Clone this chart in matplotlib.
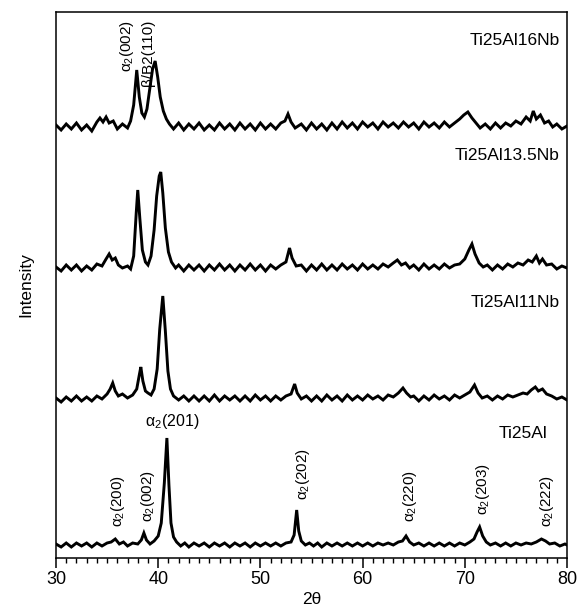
import matplotlib
matplotlib.use("Agg")
import matplotlib.pyplot as plt
from matplotlib.ticker import MultipleLocator

# ---------- DATA (2theta, intensity above baseline) ----------
ti25al16nb = [
    (30.0, 2), (30.5, -3), (31.0, 3), (31.5, -2), (32.0, 4), (32.5, -3), (33.0, 2), (33.5, -4),
    (34.0, 5), (34.3, 9), (34.6, 5), (34.9, 10), (35.2, 4), (35.6, 6), (36.0, -2), (36.5, 3),
    (37.0, -1), (37.3, 6), (37.6, 22), (37.9, 57), (38.15, 30), (38.4, 14), (38.65, 10), (38.9, 18),
    (39.2, 40), (39.45, 58), (39.7, 66), (39.95, 50), (40.2, 30), (40.5, 16), (40.8, 8), (41.1, 3),
    (41.5, -2), (42.0, 4), (42.5, -3), (43.0, 3), (43.5, -2), (44.0, 4), (44.5, -3), (45.0, 2),
    (45.5, -3), (46.0, 4), (46.5, -2), (47.0, 3), (47.5, -3), (48.0, 4), (48.5, -2), (49.0, 3),
    (49.5, -3), (50.0, 4), (50.5, -2), (51.0, 3), (51.5, -2), (52.0, 4), (52.4, 6), (52.7, 13),
    (53.0, 5), (53.4, -1), (54.0, 3), (54.5, -3), (55.0, 4), (55.5, -2), (56.0, 3), (56.5, -3),
    (57.0, 4), (57.5, -2), (58.0, 5), (58.5, -1), (59.0, 4), (59.5, -2), (60.0, 5), (60.5, 0),
    (61.0, 4), (61.5, -2), (62.0, 5), (62.5, 0), (63.0, 4), (63.5, -1), (64.0, 5), (64.5, 0),
    (65.0, 4), (65.5, -2), (66.0, 5), (66.5, 0), (67.0, 4), (67.5, -1), (68.0, 5), (68.5, 0),
    (69.0, 4), (69.5, 8), (69.9, 12), (70.3, 15), (70.7, 9), (71.1, 4), (71.5, -1), (72.0, 3),
    (72.5, -2), (73.0, 4), (73.5, -1), (74.0, 4), (74.5, 1), (75.0, 6), (75.5, 3), (76.0, 10),
    (76.4, 6), (76.7, 16), (77.0, 8), (77.4, 12), (77.8, 4), (78.2, 6), (78.6, 0), (79.0, 3),
    (79.5, -2), (80.0, 1),
]

ti25al135nb = [
    (30.0, 1), (30.5, -3), (31.0, 3), (31.5, -2), (32.0, 3), (32.5, -3), (33.0, 2), (33.5, -2),
    (34.0, 4), (34.5, 2), (34.9, 9), (35.2, 14), (35.5, 8), (35.8, 10), (36.1, 3), (36.5, 0),
    (37.0, 2), (37.3, -1), (37.6, 12), (37.85, 55), (38.0, 78), (38.2, 50), (38.45, 18), (38.75, 6),
    (39.0, 3), (39.3, 12), (39.6, 38), (39.85, 72), (40.1, 92), (40.25, 96), (40.45, 75), (40.7, 40),
    (41.0, 16), (41.3, 6), (41.7, 0), (42.0, 3), (42.5, -3), (43.0, 3), (43.5, -2), (44.0, 3),
    (44.5, -3), (45.0, 3), (45.5, -2), (46.0, 4), (46.5, -2), (47.0, 3), (47.5, -3), (48.0, 3),
    (48.5, -2), (49.0, 4), (49.5, -2), (50.0, 3), (50.5, -3), (51.0, 3), (51.5, -1), (52.0, 3),
    (52.5, 6), (52.85, 20), (53.1, 10), (53.5, 2), (54.0, 3), (54.5, -3), (55.0, 3), (55.5, -2),
    (56.0, 4), (56.5, -2), (57.0, 3), (57.5, -2), (58.0, 4), (58.5, -1), (59.0, 3), (59.5, -2),
    (60.0, 4), (60.5, -1), (61.0, 3), (61.5, -1), (62.0, 4), (62.5, 1), (63.0, 5), (63.4, 8),
    (63.8, 3), (64.2, 5), (64.6, 0), (65.0, 3), (65.5, -2), (66.0, 4), (66.5, -1), (67.0, 3),
    (67.5, -1), (68.0, 4), (68.5, 0), (69.0, 3), (69.5, 4), (70.0, 9), (70.4, 18), (70.7, 24),
    (71.0, 14), (71.4, 5), (71.8, 1), (72.2, 3), (72.7, -2), (73.2, 3), (73.7, -1), (74.2, 4),
    (74.7, 1), (75.2, 5), (75.7, 3), (76.2, 8), (76.6, 6), (77.0, 12), (77.3, 5), (77.6, 9),
    (78.0, 3), (78.5, 4), (79.0, -1), (79.5, 2), (80.0, 0),
]

ti25al11nb = [
    (30.0, 1), (30.5, -3), (31.0, 2), (31.5, -2), (32.0, 3), (32.5, -2), (33.0, 2), (33.5, -2),
    (34.0, 3), (34.5, 0), (35.0, 5), (35.3, 10), (35.55, 16), (35.8, 8), (36.1, 3), (36.5, 5),
    (37.0, 1), (37.5, 4), (37.9, 10), (38.15, 24), (38.3, 32), (38.5, 18), (38.75, 8), (39.0, 6),
    (39.3, 4), (39.6, 10), (39.9, 30), (40.15, 70), (40.45, 103), (40.7, 68), (40.95, 28), (41.2, 10),
    (41.5, 3), (42.0, -1), (42.5, 3), (43.0, -2), (43.5, 3), (44.0, -2), (44.5, 3), (45.0, -2),
    (45.5, 4), (46.0, -2), (46.5, 3), (47.0, -1), (47.5, 3), (48.0, -2), (48.5, 3), (49.0, -2),
    (49.5, 4), (50.0, -1), (50.5, 3), (51.0, -2), (51.5, 3), (52.0, -1), (52.5, 3), (53.0, 5),
    (53.35, 15), (53.6, 6), (54.0, 0), (54.5, 3), (55.0, -2), (55.5, 3), (56.0, -2), (56.5, 4),
    (57.0, -1), (57.5, 3), (58.0, -2), (58.5, 4), (59.0, -1), (59.5, 3), (60.0, -1), (60.5, 4),
    (61.0, 0), (61.5, 3), (62.0, -1), (62.5, 4), (63.0, 2), (63.5, 6), (63.95, 11), (64.3, 6),
    (64.7, 2), (65.0, 3), (65.5, -2), (66.0, 3), (66.5, -1), (67.0, 4), (67.5, 0), (68.0, 3),
    (68.5, -1), (69.0, 4), (69.5, 1), (70.0, 4), (70.5, 7), (70.95, 14), (71.3, 6), (71.7, 1),
    (72.2, 3), (72.7, -1), (73.2, 3), (73.7, 0), (74.2, 4), (74.7, 2), (75.2, 4), (75.7, 6),
    (76.1, 5), (76.5, 9), (76.9, 12), (77.2, 8), (77.6, 10), (78.0, 5), (78.5, 3), (79.0, 0),
    (79.5, 2), (80.0, -1),
]

ti25al = [
    (30.0, 1), (30.5, -2), (31.0, 2), (31.5, -2), (32.0, 2), (32.5, -1), (33.0, 2), (33.5, -2),
    (34.0, 2), (34.5, -1), (35.0, 2), (35.4, 3), (35.8, 6), (36.2, 1), (36.6, 3), (37.0, -1),
    (37.5, 2), (38.0, 1), (38.35, 5), (38.6, 12), (38.85, 5), (39.2, 1), (39.6, 4), (40.0, 9),
    (40.3, 22), (40.6, 62), (40.85, 107), (41.05, 60), (41.25, 22), (41.5, 8), (41.8, 3), (42.2, -1),
    (42.6, 2), (43.0, -2), (43.5, 2), (44.0, -1), (44.5, 2), (45.0, -2), (45.5, 2), (46.0, -1),
    (46.5, 2), (47.0, -2), (47.5, 2), (48.0, -1), (48.5, 2), (49.0, -2), (49.5, 2), (50.0, -1),
    (50.5, 2), (51.0, -1), (51.5, 2), (52.0, -1), (52.5, 2), (53.0, 3), (53.3, 10), (53.55, 35),
    (53.75, 14), (54.0, 4), (54.4, 0), (54.8, 2), (55.2, -1), (55.6, 2), (56.0, -2), (56.5, 2),
    (57.0, -1), (57.5, 2), (58.0, -1), (58.5, 2), (59.0, -1), (59.5, 2), (60.0, -1), (60.5, 2),
    (61.0, -1), (61.5, 2), (62.0, 0), (62.5, 2), (63.0, 0), (63.5, 3), (63.9, 4), (64.25, 9),
    (64.6, 3), (65.0, 0), (65.5, 2), (66.0, -1), (66.5, 2), (67.0, -1), (67.5, 2), (68.0, -1),
    (68.5, 2), (69.0, -1), (69.5, 2), (70.0, 0), (70.5, 3), (70.9, 6), (71.2, 13), (71.45, 18),
    (71.75, 9), (72.1, 3), (72.5, 0), (73.0, 2), (73.5, -1), (74.0, 2), (74.5, -1), (75.0, 2),
    (75.5, 0), (76.0, 2), (76.5, 1), (77.0, 3), (77.5, 6), (77.9, 4), (78.3, 1), (78.8, 2),
    (79.3, -1), (79.8, 1), (80.0, 0),
]

samples = ["Ti25Al", "Ti25Al11Nb", "Ti25Al13.5Nb", "Ti25Al16Nb"]
patterns = [ti25al, ti25al11nb, ti25al135nb, ti25al16nb]
offsets = [13, 159, 290, 431]

# peak labels on the Ti25Al pattern (rotated)
ti25al_peaks = ["(200)", "(002)", "(202)", "(220)", "(203)", "(222)"]
ti25al_peak_x = [36.07, 39.0, 54.2, 64.6, 71.8, 78.0]
ti25al_peak_y = [31, 36, 58, 36, 43, 31]

# ---------- STYLE ----------
plt.rcParams['font.family'] = ['Liberation Sans', 'DejaVu Sans']
plt.rcParams['mathtext.fontset'] = 'custom'
plt.rcParams['mathtext.rm'] = 'Liberation Sans'

fig = plt.figure(figsize=(5.78, 6.13), dpi=100)
ax = fig.add_axes([56 / 578, 1 - 558 / 613, 511 / 578, 546 / 613])

for pat, off in zip(patterns, offsets):
    xs = [p[0] for p in pat]
    ys = [p[1] + off for p in pat]
    ax.plot(xs, ys, color="black", lw=2.1, solid_joinstyle="miter")

ax.set_xlim(30, 80)
ax.set_ylim(0, 546)
ax.set_yticks([])
ax.xaxis.set_major_locator(MultipleLocator(10))
ax.xaxis.set_minor_locator(MultipleLocator(1))
ax.tick_params(axis="x", which="major", direction="out", length=7, width=1.1, labelsize=13, pad=2)
ax.tick_params(axis="x", which="minor", direction="out", length=3.5, width=1.0)
for s in ax.spines.values():
    s.set_linewidth(1.1)

ax.set_xlabel("2θ", fontsize=12.5, labelpad=3)
ax.set_ylabel("Intensity", fontsize=12.5, labelpad=16)

# sample names
ax.text(79.3, 518, "Ti25Al16Nb", fontsize=12.5, ha="right", va="center")
ax.text(79.3, 403, "Ti25Al13.5Nb", fontsize=12.5, ha="right", va="center")
ax.text(79.3, 256, "Ti25Al11Nb", fontsize=12.5, ha="right", va="center")
ax.text(78.1, 125, "Ti25Al", fontsize=12.5, ha="right", va="center")

# phase labels
ax.text(36.95, 538, "α$_2$(002)", fontsize=11, rotation=90, ha="center", va="top")
ax.text(39.0, 538, "β/B2(110)", fontsize=11, rotation=90, ha="center", va="top")
ax.text(41.35, 137, "α$_2$(201)", fontsize=11.5, ha="center", va="center")
for lab, px, py in zip(ti25al_peaks, ti25al_peak_x, ti25al_peak_y):
    ax.text(px, py, "α$_2$" + lab, fontsize=11, rotation=90, ha="center", va="bottom")

fig.savefig("out.png", dpi=100)
